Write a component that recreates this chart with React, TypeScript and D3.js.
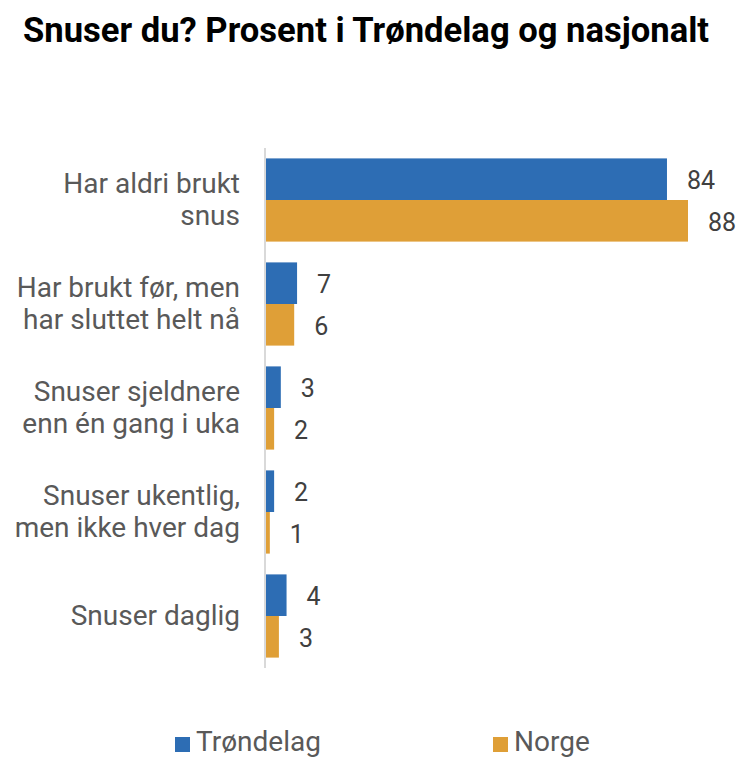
import React from "react";
import * as d3 from "d3";

const title = "Snuser du? Prosent i Trøndelag og nasjonalt";
const categories = [
  "Har aldri brukt\nsnus",
  "Har brukt før, men\nhar sluttet helt nå",
  "Snuser sjeldnere\nenn én gang i uka",
  "Snuser ukentlig,\nmen ikke hver dag",
  "Snuser daglig",
];
const seriesNames = ["Trøndelag", "Norge"];
const trondelag = [83.9, 6.5, 3.1, 1.7, 4.3];
const norge = [88.3, 5.9, 1.7, 0.8, 2.7];
const colors = ["#2D6DB4", "#DF9F37"];

const W = 747;
const H = 774;
const FONT = "Roboto, 'Noto Sans', sans-serif";

export default function App() {
  const x = d3.scaleLinear().domain([0, 88.3]).range([266, 688]);
  const y = d3
    .scaleBand<string>()
    .domain(categories)
    .range([148, 668])
    .paddingInner(0.2)
    .paddingOuter(0.1);
  const sub = d3
    .scaleBand<string>()
    .domain(seriesNames)
    .range([0, y.bandwidth()])
    .padding(0);
  const series = [trondelag, norge];
  const fmt = d3.format(".0f");

  return (
    <svg
      width={W}
      height={H}
      style={{ position: "absolute", left: 0, top: 0, background: "#fff" }}
      fontFamily={FONT}
    >
      <text x={23} y={42} fontSize={34.6} fontWeight={700} fill="#000">
        {title}
      </text>

      {categories.map((c) => {
        const lines = c.split("\n");
        const cy = (y(c) as number) + y.bandwidth() / 2;
        return (
          <text key={c} x={240} textAnchor="end" fontSize={28} fill="#595959">
            {lines.map((l, li) => (
              <tspan key={li} x={240} y={cy + (li - (lines.length - 1) / 2) * 32 + 9}>
                {l}
              </tspan>
            ))}
          </text>
        );
      })}

      {series.map((vals, si) =>
        categories.map((c, ci) => {
          const by = (y(c) as number) + (sub(seriesNames[si]) as number);
          const bh = sub.bandwidth();
          return (
            <g key={si + "-" + ci}>
              <rect
                x={x(0)}
                y={by}
                width={x(vals[ci]) - x(0)}
                height={bh}
                fill={colors[si]}
              />
              <text x={x(vals[ci]) + 20} y={by + bh / 2 + 10} fontSize={25} fill="#404040">
                {fmt(vals[ci])}
              </text>
            </g>
          );
        })
      )}

      <line x1={265} x2={265} y1={148} y2={668} stroke="#D9D9D9" strokeWidth={2} />

      {seriesNames.map((s, i) => {
        const lx = i === 0 ? 175 : 493;
        return (
          <g key={s}>
            <rect x={lx} y={737} width={15} height={15} fill={colors[i]} />
            <text x={lx + 21} y={751} fontSize={28} fill="#595959">
              {s}
            </text>
          </g>
        );
      })}
    </svg>
  );
}
